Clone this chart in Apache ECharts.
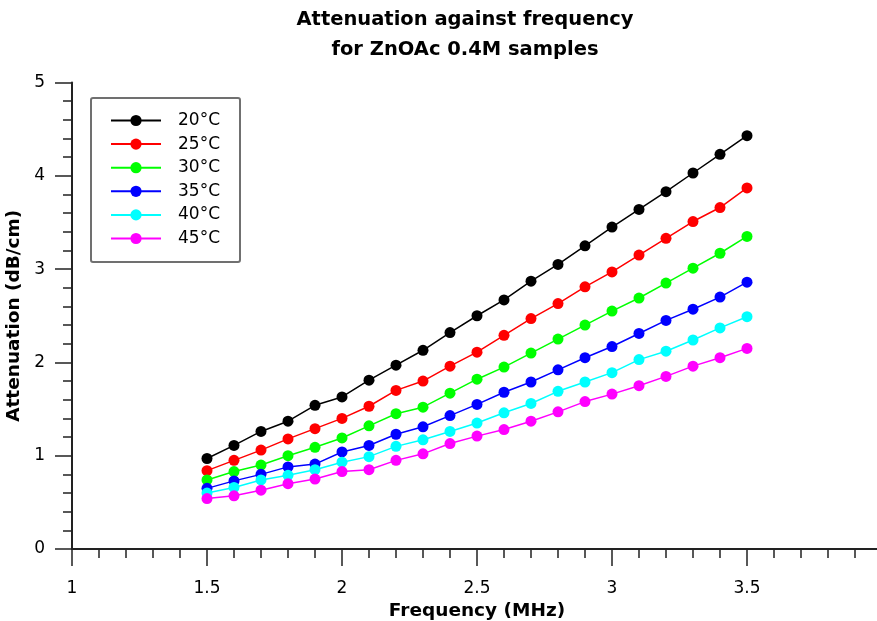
<!DOCTYPE html>
<html>
<head>
<meta charset="utf-8">
<title>Attenuation against frequency</title>
<script src="https://cdn.jsdelivr.net/npm/echarts@6/dist/echarts.min.js"></script>
<style>
  html, body { margin: 0; padding: 0; background: #fff; }
  #chart { width: 877px; height: 621px; }
</style>
</head>
<body>
<div id="chart"></div>
<script>
// Frequency (MHz) sampled from 1.5 to 3.5
const frequency = [1.5, 1.6, 1.7, 1.8, 1.9, 2.0, 2.1, 2.2, 2.3, 2.4, 2.5,
                   2.6, 2.7, 2.8, 2.9, 3.0, 3.1, 3.2, 3.3, 3.4, 3.5];

// Attenuation (dB/cm) for each temperature
const att20 = [0.97, 1.11, 1.26, 1.37, 1.54, 1.63, 1.81, 1.97, 2.13, 2.32, 2.50,
               2.67, 2.87, 3.05, 3.25, 3.45, 3.64, 3.83, 4.03, 4.23, 4.43];
const att25 = [0.84, 0.95, 1.06, 1.18, 1.29, 1.40, 1.53, 1.70, 1.80, 1.96, 2.11,
               2.29, 2.47, 2.63, 2.81, 2.97, 3.15, 3.33, 3.51, 3.66, 3.87];
const att30 = [0.74, 0.83, 0.90, 1.00, 1.09, 1.19, 1.32, 1.45, 1.52, 1.67, 1.82,
               1.95, 2.10, 2.25, 2.40, 2.55, 2.69, 2.85, 3.01, 3.17, 3.35];
const att35 = [0.65, 0.73, 0.80, 0.88, 0.91, 1.04, 1.11, 1.23, 1.31, 1.43, 1.55,
               1.68, 1.79, 1.92, 2.05, 2.17, 2.31, 2.45, 2.57, 2.70, 2.86];
const att40 = [0.60, 0.66, 0.74, 0.79, 0.85, 0.93, 0.99, 1.10, 1.17, 1.26, 1.35,
               1.46, 1.56, 1.69, 1.79, 1.89, 2.03, 2.12, 2.24, 2.37, 2.49];
const att45 = [0.54, 0.57, 0.63, 0.70, 0.75, 0.83, 0.85, 0.95, 1.02, 1.13, 1.21,
               1.28, 1.37, 1.47, 1.58, 1.66, 1.75, 1.85, 1.96, 2.05, 2.15];

const seriesNames = ['20°C', '25°C', '30°C', '35°C', '40°C', '45°C'];
const seriesValues = [att20, att25, att30, att35, att40, att45];
const seriesColors = ['#000000', '#ff0000', '#00ff00', '#0000ff', '#00ffff', '#ff00ff'];

const FONT = '"DejaVu Sans", Verdana, sans-serif';
const AXIS_COLOR = '#222';

const chart = echarts.init(document.getElementById('chart'), null, { renderer: 'canvas' });

const series = seriesNames.map((name, i) => ({
  name: name,
  type: 'line',
  data: frequency.map((f, j) => [f, seriesValues[i][j]]),
  symbol: 'circle',
  symbolSize: 11,
  showSymbol: true,
  animation: false,
  lineStyle: { width: 1.5, color: seriesColors[i] },
  itemStyle: { color: seriesColors[i] },
  emphasis: { disabled: true }
}));

chart.setOption({
  backgroundColor: '#fff',
  animation: false,
  title: {
    text: 'Attenuation against frequency\nfor ZnOAc 0.4M samples',
    left: 460,
    top: 0,
    textAlign: 'center',
    textStyle: {
      fontFamily: FONT,
      fontSize: 19.5,
      fontWeight: 'bold',
      color: '#000',
      lineHeight: 30
    }
  },
  legend: {
    orient: 'vertical',
    left: 91,
    top: 98,
    padding: [14, 20, 15, 19],
    itemWidth: 50,
    itemHeight: 14,
    itemGap: 6.6,
    borderColor: '#707070',
    borderWidth: 2,
    borderRadius: 2,
    backgroundColor: '#fff',
    selectedMode: false,
    data: seriesNames,
    textStyle: {
      fontFamily: FONT,
      fontSize: 17,
      color: '#000',
      padding: [0, 0, 0, 12]
    }
  },
  grid: {
    left: 72,
    right: -5,
    top: 82.5,
    bottom: 72,
    containLabel: false,
    outerBoundsMode: 'none'
  },
  xAxis: {
    type: 'value',
    min: 1,
    max: 4,
    interval: 0.5,
    name: 'Frequency (MHz)',
    nameLocation: 'middle',
    nameGap: 49,
    nameTextStyle: { fontFamily: FONT, fontSize: 18.5, fontWeight: 'bold', color: '#000' },
    axisLine: { show: true, onZero: false, lineStyle: { color: AXIS_COLOR, width: 2 } },
    axisTick: { show: true, inside: false, length: 17, lineStyle: { color: AXIS_COLOR, width: 1.5 } },
    minorTick: { show: true, splitNumber: 5, length: 9, lineStyle: { color: AXIS_COLOR, width: 1.5 } },
    axisLabel: { fontFamily: FONT, fontSize: 17, color: '#000', margin: 31,
                 showMinLabel: true, showMaxLabel: true, hideOverlap: false,
                 formatter: v => String(v) },
    splitLine: { show: false },
    minorSplitLine: { show: false }
  },
  yAxis: {
    type: 'value',
    min: 0,
    max: 5,
    interval: 1,
    name: 'Attenuation (dB/cm)',
    nameLocation: 'middle',
    nameGap: 43,
    nameTextStyle: { fontFamily: FONT, fontSize: 18.5, fontWeight: 'bold', color: '#000' },
    axisLine: { show: true, onZero: false, lineStyle: { color: AXIS_COLOR, width: 2 } },
    axisTick: { show: true, inside: false, length: 17, lineStyle: { color: AXIS_COLOR, width: 1.5 } },
    minorTick: { show: true, splitNumber: 5, length: 9, lineStyle: { color: AXIS_COLOR, width: 1.5 } },
    axisLabel: { fontFamily: FONT, fontSize: 17, color: '#000', margin: 27 },
    splitLine: { show: false },
    minorSplitLine: { show: false }
  },
  series: series
});
</script>
</body>
</html>
